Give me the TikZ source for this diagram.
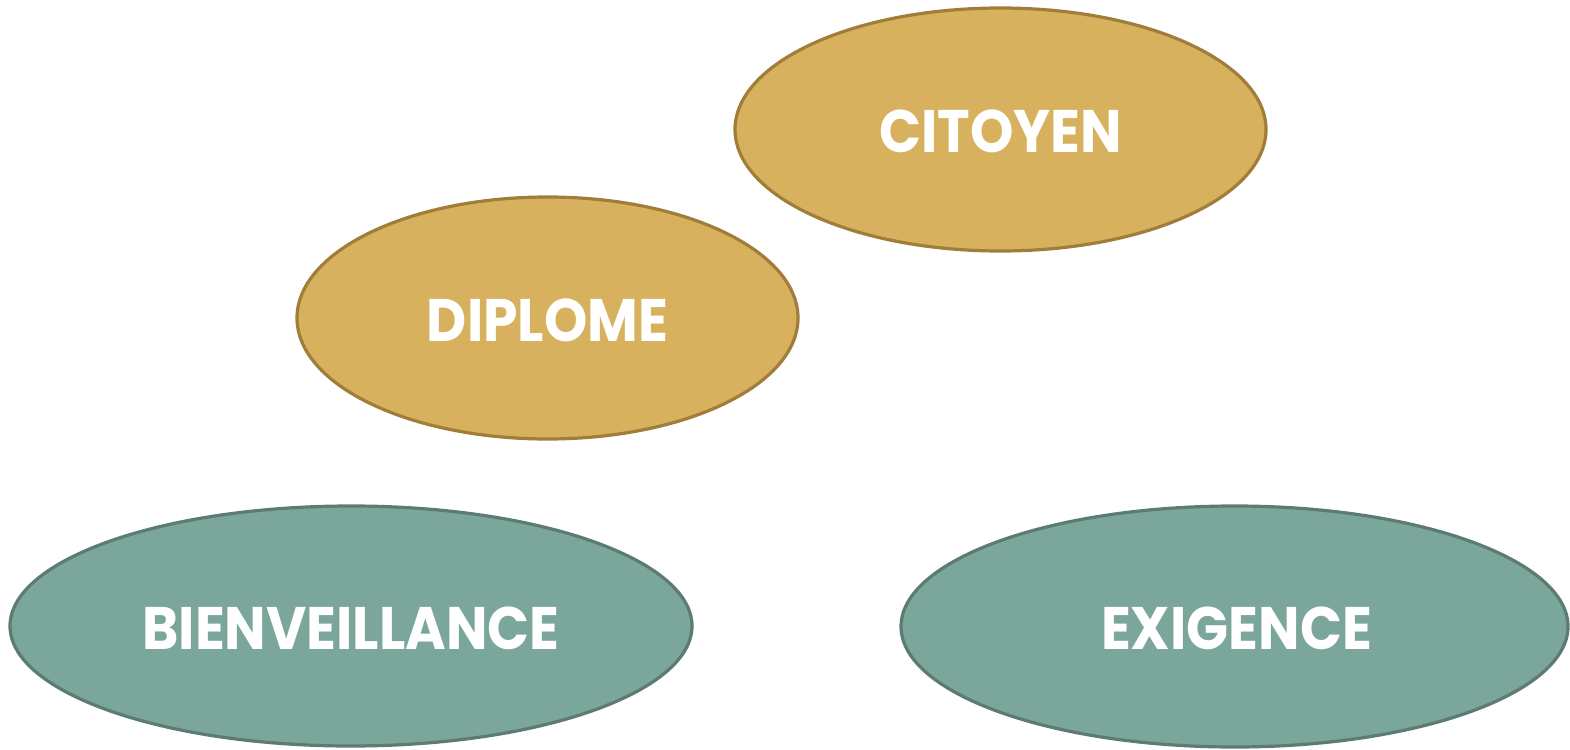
\documentclass[tikz,border=0pt]{standalone}
\usepackage{fontspec}
\setmainfont{Poppins}
\usetikzlibrary{shapes.geometric}
\definecolor{goldfill}{HTML}{D8B15E}
\definecolor{golddraw}{HTML}{A07E3A}
\definecolor{tealfill}{HTML}{7BA69B}
\definecolor{tealdraw}{HTML}{5C7C72}
\newcommand{\lbltext}[1]{\scalebox{0.92}[1]{#1}}
\begin{document}
\begin{tikzpicture}[x=1pt,y=-1pt,
  ell/.style={ellipse, line width=3.2pt, inner sep=0pt, outer sep=0pt},
  gold/.style={ell, fill=goldfill, draw=golddraw},
  teal/.style={ell, fill=tealfill, draw=tealdraw},
  lbl/.style={text=white, font=\fontsize{60}{60}\selectfont\bfseries, yshift=-2pt}]
\useasboundingbox (0,0) rectangle (1570,749);
\node[gold, minimum width=531pt, minimum height=243pt] (cit) at (1000.5,129.5) {};
\node[gold, minimum width=501pt, minimum height=242pt] (dip) at (547.5,318) {};
\node[teal, minimum width=682pt, minimum height=240pt] (bie) at (351,626) {};
\node[teal, minimum width=667pt, minimum height=241pt] (exi) at (1234.5,626.5) {};
\node[lbl] (citl) at (cit) {\lbltext{CITOYEN}};
\node[lbl] (dipl) at (dip) {\lbltext{DIPLOME}};
\node[lbl] (biel) at (bie) {\lbltext{BIENVEILLANCE}};
\node[lbl, xshift=2pt] (exil) at (exi) {\lbltext{EXIGENCE}};
\end{tikzpicture}
\end{document}
